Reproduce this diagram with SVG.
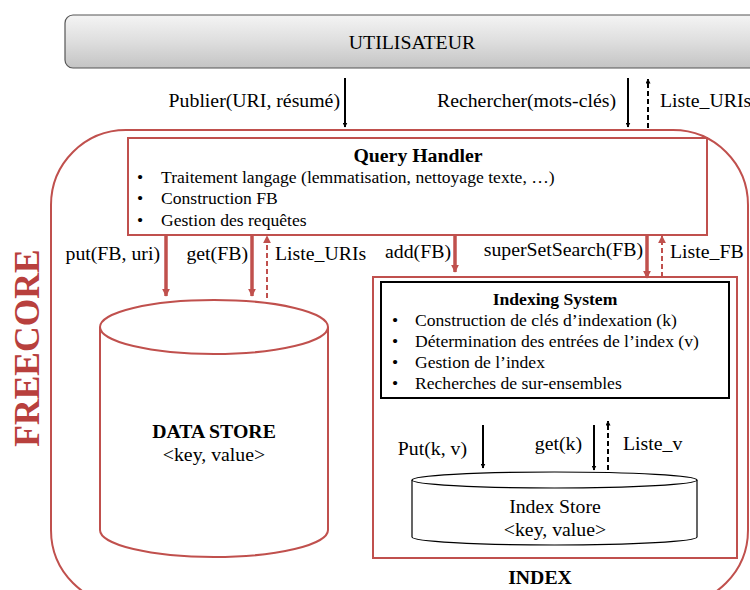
<svg xmlns="http://www.w3.org/2000/svg" width="750" height="590" viewBox="0 0 750 590">
<defs>
<linearGradient id="gbar" x1="0" y1="0" x2="0" y2="1">
<stop offset="0" stop-color="#f4f4f4"/>
<stop offset="0.5" stop-color="#dedede"/>
<stop offset="1" stop-color="#c4c4c4"/>
</linearGradient>
<marker id="ab" viewBox="0 0 10 10" refX="9" refY="5" markerWidth="5" markerHeight="5" orient="auto" markerUnits="userSpaceOnUse"><path d="M0,0 L10,5 L0,10 z" fill="#000"/></marker>
<marker id="ar" viewBox="0 0 10 10" refX="9" refY="5" markerWidth="8" markerHeight="8" orient="auto" markerUnits="userSpaceOnUse"><path d="M0,0 L10,5 L0,10 z" fill="#c0504d"/></marker>
</defs>
<style>
text{font-family:"Liberation Serif","Times New Roman",serif;fill:#000}
.body{font-size:17.6px}
.lbl{font-size:19.8px}
.b{font-weight:bold}
.red{fill:none;stroke:#c0504d;stroke-width:2}
.rline{stroke:#c0504d;stroke-width:3.5;fill:none}
.rdash{stroke:#c0504d;stroke-width:2;fill:none;stroke-dasharray:5,3}
.bline{stroke:#000;stroke-width:2;fill:none}
.bdash{stroke:#000;stroke-width:2;fill:none;stroke-dasharray:5,3}
</style>
<rect width="750" height="590" fill="#fff"/>

<g id="utilisateur">
<rect x="65" y="15" width="700" height="53" rx="8" fill="url(#gbar)" stroke="#555" stroke-width="1.2"/>
<text x="412" y="49" text-anchor="middle" class="lbl">UTILISATEUR</text>
</g>

<g id="freecore">
<rect x="51" y="130" width="697" height="475" rx="75" class="red"/>
<text transform="translate(39,348) rotate(-90)" text-anchor="middle" style="font-size:35.5px;font-weight:bold;fill:#b8403d">FREECORE</text>
</g>

<g id="query-handler">
<rect x="128" y="138" width="579" height="97" fill="#fff" stroke="#c0504d" stroke-width="2"/>
<text x="418" y="162" text-anchor="middle" class="lbl b">Query Handler</text>
<text x="137" y="183" class="body">•</text>
<text x="161" y="183" class="body">Traitement langage (lemmatisation, nettoyage texte, …)</text>
<text x="137" y="204" class="body">•</text>
<text x="161" y="204" class="body">Construction FB</text>
<text x="137" y="226" class="body">•</text>
<text x="161" y="226" class="body">Gestion des requêtes</text>
</g>

<g id="data-store">
<path d="M100,327 L100,530 A114,27 0 0 0 328,530 L328,327" fill="#fff" stroke="#c0504d" stroke-width="2"/>
<ellipse cx="214" cy="327" rx="114" ry="27" fill="#fff" stroke="#c0504d" stroke-width="2"/>
<text x="214" y="438" text-anchor="middle" class="lbl b">DATA STORE</text>
<text x="214" y="461" text-anchor="middle" class="lbl">&lt;key, value&gt;</text>
</g>

<g id="index">
<rect x="373" y="277" width="364" height="281" class="red"/>
<text x="540" y="584" text-anchor="middle" class="lbl b">INDEX</text>
</g>

<g id="indexing-system">
<rect x="381" y="282" width="348" height="116" fill="#fff" stroke="#000" stroke-width="2"/>
<text x="555" y="305" text-anchor="middle" class="body b">Indexing System</text>
<text x="392" y="326" class="body">•</text>
<text x="415" y="326" class="body">Construction de clés d’indexation (k)</text>
<text x="392" y="347" class="body">•</text>
<text x="415" y="347" class="body">Détermination des entrées de l’index (v)</text>
<text x="392" y="368" class="body">•</text>
<text x="415" y="368" class="body">Gestion de l’index</text>
<text x="392" y="389" class="body">•</text>
<text x="415" y="389" class="body">Recherches de sur-ensembles</text>
</g>

<g id="index-store">
<path d="M412,480 L412,537 A142.5,8 0 0 0 697,537 L697,480" fill="#fff" stroke="#000" stroke-width="1.2"/>
<ellipse cx="554.5" cy="480" rx="142.5" ry="8" fill="#fff" stroke="#000" stroke-width="1.2"/>
<text x="555" y="513" text-anchor="middle" class="lbl">Index Store</text>
<text x="555" y="536" text-anchor="middle" class="lbl">&lt;key, value&gt;</text>
</g>

<g id="connectors">
<line x1="345" y1="78" x2="345" y2="127" class="bline" marker-end="url(#ab)"/>
<line x1="628" y1="78" x2="628" y2="127" class="bline" marker-end="url(#ab)"/>
<line x1="648" y1="128" x2="648" y2="79" class="bdash" marker-end="url(#ab)"/>
<line x1="166" y1="235" x2="166" y2="296" class="rline" marker-end="url(#ar)"/>
<line x1="252" y1="235" x2="252" y2="296" class="rline" marker-end="url(#ar)"/>
<line x1="267" y1="298" x2="267" y2="236" class="rdash" marker-end="url(#ar)"/>
<line x1="455" y1="235" x2="455" y2="272" class="rline" marker-end="url(#ar)"/>
<line x1="647" y1="235" x2="647" y2="278" class="rline" marker-end="url(#ar)"/>
<line x1="662" y1="277" x2="662" y2="236" class="rdash" marker-end="url(#ar)"/>
<line x1="483" y1="425" x2="483" y2="468" class="bline" marker-end="url(#ab)"/>
<line x1="594" y1="425" x2="594" y2="470" class="bline" marker-end="url(#ab)"/>
<line x1="608" y1="470" x2="608" y2="421" class="bdash" marker-end="url(#ab)"/>
<text x="340" y="107" text-anchor="end" class="lbl">Publier(URI, résumé)</text>
<text x="616" y="107" text-anchor="end" class="lbl">Rechercher(mots-clés)</text>
<text x="660" y="107" class="lbl">Liste_URIs</text>
<text x="160" y="260" text-anchor="end" class="lbl">put(FB, uri)</text>
<text x="248" y="260" text-anchor="end" class="lbl">get(FB)</text>
<text x="275" y="260" class="lbl">Liste_URIs</text>
<text x="451" y="258" text-anchor="end" class="lbl">add(FB)</text>
<text x="643" y="256" text-anchor="end" class="lbl">superSetSearch(FB)</text>
<text x="670" y="258" class="lbl">Liste_FB</text>
<text x="467" y="455" text-anchor="end" class="lbl">Put(k, v)</text>
<text x="582" y="450" text-anchor="end" class="lbl">get(k)</text>
<text x="623" y="450" class="lbl">Liste_v</text>
</g>
</svg>
